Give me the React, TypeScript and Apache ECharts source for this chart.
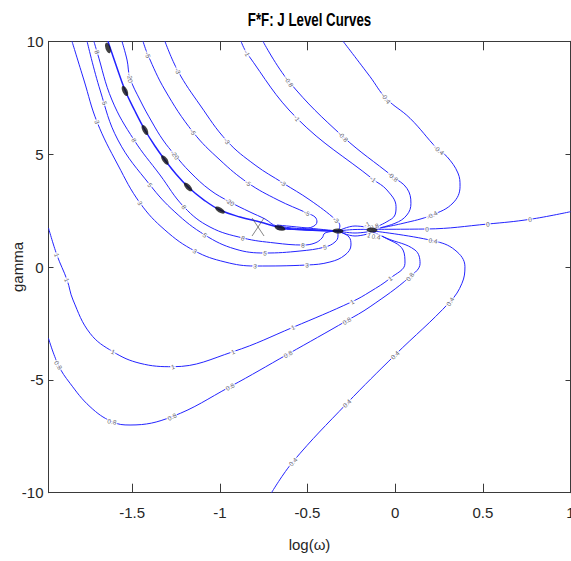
import React, { useEffect, useRef } from "react";
import * as echarts from "echarts";

const X_MIN = -1.977;
const X_MAX = 1;
const Y_MIN = -10;
const Y_MAX = 10;
const xTickValues = [-1.5, -1, -0.5, 0, 0.5, 1];

// contour polylines [log(w), gamma]
const levelNeg04 = [[-0.297, 10], [-0.143, 8.431], [-0.052, 7.474], [0.085, 6.588], [0.239, 5.25], [0.296, 4.887], [0.358, 4.165], [0.37, 3.575], [0.33, 2.837], [0.21, 2.304], [0.045, 1.936], [-0.126, 1.67]];
const levelNeg08 = [[-0.754, 10], [-0.605, 8.21], [-0.297, 5.773], [-0.012, 4.0], [0.067, 3.486], [0.09, 2.822], [0.067, 2.304], [-0.001, 1.936], [-0.126, 1.67]];
const levelNeg1 = [[-0.879, 10], [-0.845, 9.468], [-0.56, 6.588], [-0.126, 3.885], [-0.047, 3.411], [0.005, 2.671], [-0.001, 2.304], [-0.047, 2.007], [-0.126, 1.714]];
const levelZero = [[-0.126, 1.67], [0.182, 1.684], [0.529, 1.905], [0.769, 2.113], [1.0, 2.45]];
const levelPos04 = [[-0.126, 1.595], [0.216, 1.165], [0.341, 0.753], [0.398, 0.013], [0.381, -0.723], [0.313, -1.538], [-0.001, -3.901], [-0.275, -6.04], [-0.583, -8.628], [-0.705, -10]];
const levelPos08 = [[-0.126, 1.551], [-0.047, 1.271], [0.113, 0.753], [0.142, 0.163], [0.085, -0.43], [-0.143, -1.76], [-0.276, -2.38], [-0.611, -3.856], [-0.942, -5.305], [-1.273, -6.633], [-1.512, -7.001], [-1.615, -6.855], [-1.74, -6.19], [-1.854, -5.154], [-1.921, -4.343], [-1.977, -3.16]];
const levelPos1 = [[-0.126, 1.528], [-0.069, 1.342], [0.045, 0.753], [0.056, 0.163], [-0.029, -0.501], [-0.143, -1.095], [-0.246, -1.538], [-0.583, -2.673], [-0.925, -3.754], [-1.267, -4.418], [-1.455, -4.267], [-1.609, -3.754], [-1.74, -2.938], [-1.837, -1.464], [-1.871, -0.577], [-1.929, 0.531], [-1.977, 1.728]];
const levelPos3 = [[-1.843, 10], [-1.775, 8.285], [-1.7, 6.424], [-1.581, 4.519], [-1.455, 2.835], [-1.313, 1.639], [-1.142, 0.708], [-0.97, 0.221], [-0.799, 0.044], [-0.503, 0.088], [-0.372, 0.221], [-0.286, 0.531], [-0.252, 0.974], [-0.263, 1.329], [-0.326, 1.595]];
const levelPos5 = [[-1.757, 10], [-1.683, 7.842], [-1.581, 5.627], [-1.398, 3.634], [-1.256, 2.437], [-1.085, 1.417], [-0.913, 0.797], [-0.742, 0.62], [-0.543, 0.708], [-0.4, 0.885], [-0.343, 1.107], [-0.326, 1.373], [-0.326, 1.595]];
const levelPos8 = [[-1.718, 10], [-1.7, 9.526], [-1.615, 7.399], [-1.489, 5.627], [-1.341, 4.077], [-1.204, 2.658], [-1.056, 1.772], [-0.868, 1.284], [-0.685, 1.063], [-0.526, 0.974], [-0.457, 1.063], [-0.417, 1.284], [-0.4, 1.506], [-0.326, 1.595]];
const levelPole = [[-1.638, 10], [-1.592, 8.95], [-1.541, 7.842], [-1.484, 6.912], [-1.427, 6.07], [-1.37, 5.361], [-1.313, 4.741], [-1.25, 4.12], [-1.181, 3.546], [-1.09, 2.967], [-0.999, 2.525], [-0.885, 2.215], [-0.771, 1.994], [-0.64, 1.728], [-0.326, 1.595]];
const levelNeg20 = [[-1.558, 10], [-1.529, 9.171], [-1.512, 8.374], [-1.455, 7.399], [-1.387, 6.424], [-1.324, 5.627], [-1.256, 4.962], [-1.17, 4.209], [-1.056, 3.413], [-0.942, 2.881], [-0.828, 2.437], [-0.742, 2.126], [-0.674, 1.816], [-0.326, 1.595]];
const levelNeg5 = [[-1.438, 10], [-1.41, 9.393], [-1.313, 7.842], [-1.153, 5.981], [-0.999, 4.741], [-0.839, 3.723], [-0.668, 2.967], [-0.503, 2.392], [-0.457, 2.215], [-0.446, 1.994], [-0.474, 1.772], [-0.543, 1.684], [-0.326, 1.595]];
const levelNeg3 = [[-1.313, 10], [-1.239, 8.684], [-1.113, 7.178], [-0.959, 5.582], [-0.799, 4.519], [-0.64, 3.723], [-0.486, 2.967], [-0.337, 2.082], [-0.315, 1.816], [-0.326, 1.595]];
const wedgeA = [[-0.674, 1.861], [-0.326, 1.595]];
const wedgeB = [[-0.674, 1.684], [-0.326, 1.595]];
const fanA = [[-0.326, 1.595], [-0.229, 1.816], [-0.126, 1.714]];
const fanB = [[-0.326, 1.595], [-0.229, 1.661], [-0.126, 1.67]];
const fanC = [[-0.326, 1.595], [-0.229, 1.506], [-0.126, 1.595]];
const fanD = [[-0.326, 1.595], [-0.229, 1.373], [-0.126, 1.528]];

// inline contour label positions
const labNeg04 = [[-0.052, 7.474], [0.25, 5.18], [0.21, 2.304]];
const labNeg08 = [[-0.605, 8.21], [-0.297, 5.773], [-0.012, 4.0], [-0.125, 1.785]];
const labNeg1 = [[-0.845, 9.468], [-0.56, 6.588], [-0.126, 3.885], [-0.162, 1.891]];
const labZero = [[0.182, 1.684], [0.529, 1.905], [0.769, 2.113]];
const labPos04 = [[0.216, 1.165], [0.313, -1.538], [-0.001, -3.901], [-0.275, -6.04], [-0.583, -8.628], [-0.109, 1.342]];
const labPos08 = [[0.085, -0.43], [-0.276, -2.38], [-0.611, -3.856], [-0.942, -5.305], [-1.273, -6.633], [-1.615, -6.855], [-1.921, -4.343]];
const labPos1 = [[-0.029, -0.501], [-0.246, -1.538], [-0.583, -2.673], [-0.925, -3.754], [-1.267, -4.418], [-1.609, -3.754], [-1.871, -0.577], [-1.929, 0.531], [-0.148, 1.417]];
const labPos3 = [[-1.7, 6.424], [-1.455, 2.835], [-1.142, 0.708], [-0.799, 0.044], [-0.503, 0.088]];
const labPos5 = [[-1.656, 7.266], [-1.398, 3.634], [-1.085, 1.417], [-0.742, 0.62], [-0.4, 0.885]];
const labPos8 = [[-1.7, 9.526], [-1.489, 5.627], [-1.204, 2.658], [-0.868, 1.284], [-0.526, 0.974]];
const labNeg20 = [[-1.512, 8.374], [-1.256, 4.962], [-0.942, 2.881]];
const labNeg5 = [[-1.41, 9.393], [-1.153, 5.981], [-0.839, 3.723], [-0.503, 2.392]];
const labNeg3 = [[-1.239, 8.684], [-0.959, 5.582], [-0.64, 3.723], [-0.337, 2.082]];

// clusters of stacked labels (black blobs) and the X marker
const blobPoints = [[-1.638, 9.703], [-1.541, 7.798], [-1.427, 6.07], [-1.313, 4.741], [-1.181, 3.546], [-0.999, 2.525], [-0.657, 1.728], [-0.326, 1.595], [-0.132, 1.639]];
const crossPoint = [[-0.782, 1.772]];

const W = 571;
const H = 561;
const GRID = { left: 48.5, right: 0.5, top: 41.3, bottom: 68.3 };
const FONT = "'Liberation Sans', Arial, Helvetica, sans-serif";
const LINE_COLOR = "#2323ff";
const AXIS_COLOR = "#3a3a3a";

export default function App() {
  const ref = useRef<HTMLDivElement>(null);
  useEffect(() => {
    document.body.style.margin = "0";
    const chart = echarts.init(ref.current!, null, { renderer: "svg" });
    const plotW = W - GRID.left - GRID.right;
    const plotH = H - GRID.top - GRID.bottom;
    const sx = plotW / (X_MAX - X_MIN);
    const sy = plotH / (Y_MAX - Y_MIN);

    const angleAt = (pts: number[][], p: number[]) => {
      let best = Infinity;
      let ang = 0;
      for (let i = 0; i < pts.length - 1; i++) {
        const ax = pts[i][0] * sx, ay = pts[i][1] * sy;
        const bx = pts[i + 1][0] * sx, by = pts[i + 1][1] * sy;
        const px = p[0] * sx, py = p[1] * sy;
        const dx = bx - ax, dy = by - ay;
        const l2 = dx * dx + dy * dy || 1;
        let t = ((px - ax) * dx + (py - ay) * dy) / l2;
        t = Math.max(0, Math.min(1, t));
        const qx = ax + t * dx - px, qy = ay + t * dy - py;
        const d = qx * qx + qy * qy;
        if (d < best) {
          best = d;
          ang = (Math.atan2(dy, dx) * 180) / Math.PI;
        }
      }
      if (ang > 90) ang -= 180;
      if (ang < -90) ang += 180;
      return ang;
    };

    const contours: [string, number[][], number[][]][] = [
      ["-0.4", levelNeg04, labNeg04],
      ["-0.8", levelNeg08, labNeg08],
      ["-1", levelNeg1, labNeg1],
      ["0", levelZero, labZero],
      ["0.4", levelPos04, labPos04],
      ["0.8", levelPos08, labPos08],
      ["1", levelPos1, labPos1],
      ["3", levelPos3, labPos3],
      ["5", levelPos5, labPos5],
      ["8", levelPos8, labPos8],
      ["20", levelPole, []],
      ["-20", levelNeg20, labNeg20],
      ["-5", levelNeg5, labNeg5],
      ["-3", levelNeg3, labNeg3],
    ];
    const extra = [wedgeA, wedgeB, fanA, fanB, fanC, fanD];

    const lineSeries: any[] = contours.map(([lv, pts]) => ({
      type: "line",
      name: lv,
      data: pts,
      showSymbol: false,
      smooth: 0.4,
      silent: true,
      z: 2,
      lineStyle: { color: LINE_COLOR, width: lv === "20" ? 1.5 : 1 },
    }));
    extra.forEach((pts) =>
      lineSeries.push({
        type: "line",
        data: pts,
        showSymbol: false,
        smooth: 0.4,
        silent: true,
        z: 2,
        lineStyle: { color: LINE_COLOR, width: 1 },
      })
    );

    const labelData: any[] = [];
    contours.forEach(([lv, pts, labs]) => {
      labs.forEach((p) => {
        labelData.push({ name: lv, value: p, label: { rotate: angleAt(pts, p) } });
      });
    });

    const blobData = blobPoints.map((p) => ({
      value: p,
      symbolRotate: angleAt(levelPole, p),
    }));

    const axisLine = { show: true, onZero: false, lineStyle: { color: AXIS_COLOR, width: 1 } };

    const option: any = {
      animation: false,
      backgroundColor: "#fff",
      graphic: [
        {
          type: "text",
          x: 309.5,
          y: 20,
          scaleX: 0.76,
          style: {
            text: "F*F: J Level Curves",
            font: "bold 17.5px 'Liberation Sans', Arial, sans-serif",
            fill: "#000",
            textAlign: "center",
            textVerticalAlign: "middle",
          },
        },
      ],
      grid: {
        left: GRID.left,
        right: GRID.right,
        top: GRID.top,
        bottom: GRID.bottom,
        containLabel: false,
        outerBoundsMode: "none",
      },
      xAxis: [
        {
          type: "value",
          min: X_MIN,
          max: X_MAX,
          position: "bottom",
          name: "log(ω)",
          nameLocation: "middle",
          nameGap: 44,
          nameMoveOverlap: false,
          nameTextStyle: { fontFamily: FONT, fontSize: 15, color: "#262626" },
          axisLine,
          axisTick: { show: true, inside: true, length: 9, customValues: xTickValues, lineStyle: { color: AXIS_COLOR } },
          axisLabel: {
            show: true,
            customValues: xTickValues,
            margin: 12,
            fontFamily: FONT,
            fontSize: 15,
            color: "#262626",
            formatter: (v: number) => String(v),
          },
          splitLine: { show: false },
        },
        {
          type: "value",
          min: X_MIN,
          max: X_MAX,
          position: "top",
          axisLine,
          axisTick: { show: true, inside: true, length: 9, customValues: xTickValues, lineStyle: { color: AXIS_COLOR } },
          axisLabel: { show: false },
          splitLine: { show: false },
        },
      ],
      yAxis: [
        {
          type: "value",
          min: Y_MIN,
          max: Y_MAX,
          interval: 5,
          position: "left",
          name: "gamma",
          nameLocation: "middle",
          nameRotate: 90,
          nameGap: 24,
          nameMoveOverlap: false,
          nameTextStyle: { fontFamily: FONT, fontSize: 15, color: "#262626" },
          axisLine,
          axisTick: { show: true, inside: true, length: 5, lineStyle: { color: AXIS_COLOR } },
          axisLabel: { show: true, margin: 5, fontFamily: FONT, fontSize: 15, color: "#262626" },
          splitLine: { show: false },
        },
        {
          type: "value",
          min: Y_MIN,
          max: Y_MAX,
          interval: 5,
          position: "right",
          axisLine,
          axisTick: { show: true, inside: true, length: 5, lineStyle: { color: AXIS_COLOR } },
          axisLabel: { show: false },
          splitLine: { show: false },
        },
      ],
      series: [
        ...lineSeries,
        {
          type: "scatter",
          data: labelData,
          symbolSize: 1,
          silent: true,
          z: 5,
          itemStyle: { color: "rgba(0,0,0,0)" },
          label: {
            show: true,
            position: "inside",
            formatter: "{b}",
            fontFamily: FONT,
            fontSize: 6.5,
            color: "#3c3c3c",
            backgroundColor: "#fff",
            padding: [0, 1],
          },
        },
        {
          type: "scatter",
          data: blobData,
          symbol: "circle",
          symbolSize: [11, 5],
          silent: true,
          z: 6,
          itemStyle: { color: "#111" },
        },
        {
          type: "scatter",
          data: crossPoint,
          symbol: "path://M0,0L12,18M12,0L0,18",
          symbolSize: [12, 18],
          silent: true,
          z: 6,
          itemStyle: { color: "none", borderColor: "#444", borderWidth: 0.8 },
        },
      ],
    };
    chart.setOption(option);
    return () => chart.dispose();
  }, []);
  return <div ref={ref} style={{ width: W, height: H }} />;
}
